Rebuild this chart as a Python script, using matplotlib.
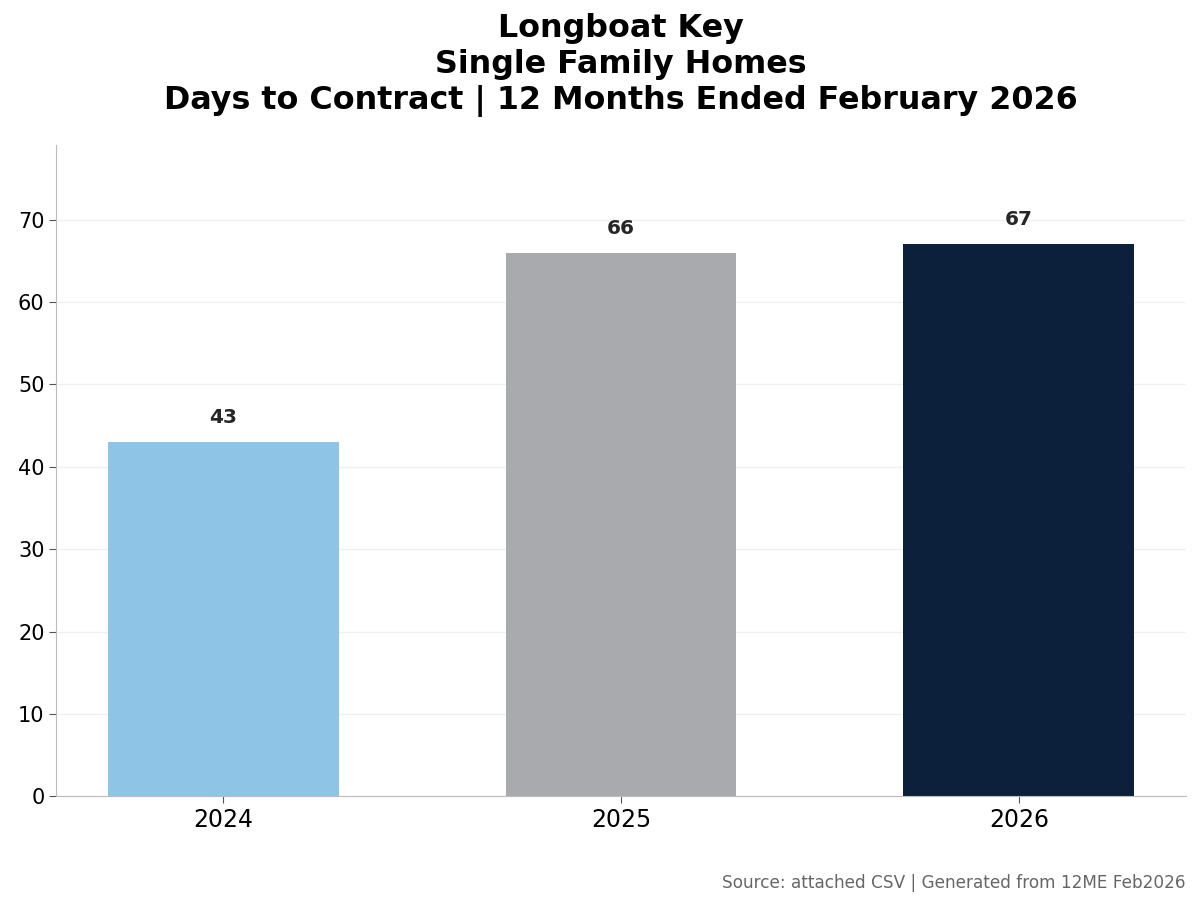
import matplotlib.pyplot as plt

years = ["2024", "2025", "2026"]
days = [43, 66, 67]
colors = ["#8ec5e6", "#a9aaad", "#0c203b"]

fig, ax = plt.subplots(figsize=(12, 9.06), dpi=100)
fig.subplots_adjust(left=0.047, right=0.988, top=0.84, bottom=0.121)

x = range(len(years))
bars = ax.bar(x, days, width=0.58, color=colors, zorder=2)
for b, v in zip(bars, days):
    ax.text(b.get_x() + b.get_width() / 2, v + 1.8, str(v), ha="center", va="bottom",
            fontsize=14.5, fontweight="bold", color="#262626")

ax.set_xticks(list(x))
ax.set_xticklabels(years, fontsize=17)
ax.tick_params(axis="y", labelsize=15, length=5, color="#555555")
ax.tick_params(axis="x", length=5, color="#555555", pad=3.5)
ax.set_ylim(0, max(days) * 1.18)
ax.yaxis.grid(True, color="#f0f0f0", linewidth=1, zorder=0)
ax.set_axisbelow(True)
for s in ["top", "right"]:
    ax.spines[s].set_visible(False)
for s in ["left", "bottom"]:
    ax.spines[s].set_color("#bbbbbb")

ax.set_title("Longboat Key\nSingle Family Homes\nDays to Contract | 12 Months Ended February 2026",
             fontsize=22.9, fontweight="bold", pad=26)
fig.text(0.988, 0.016, "Source: attached CSV | Generated from 12ME Feb2026",
         ha="right", va="bottom", fontsize=12.2, color="#666666")

fig.savefig("out.png")
